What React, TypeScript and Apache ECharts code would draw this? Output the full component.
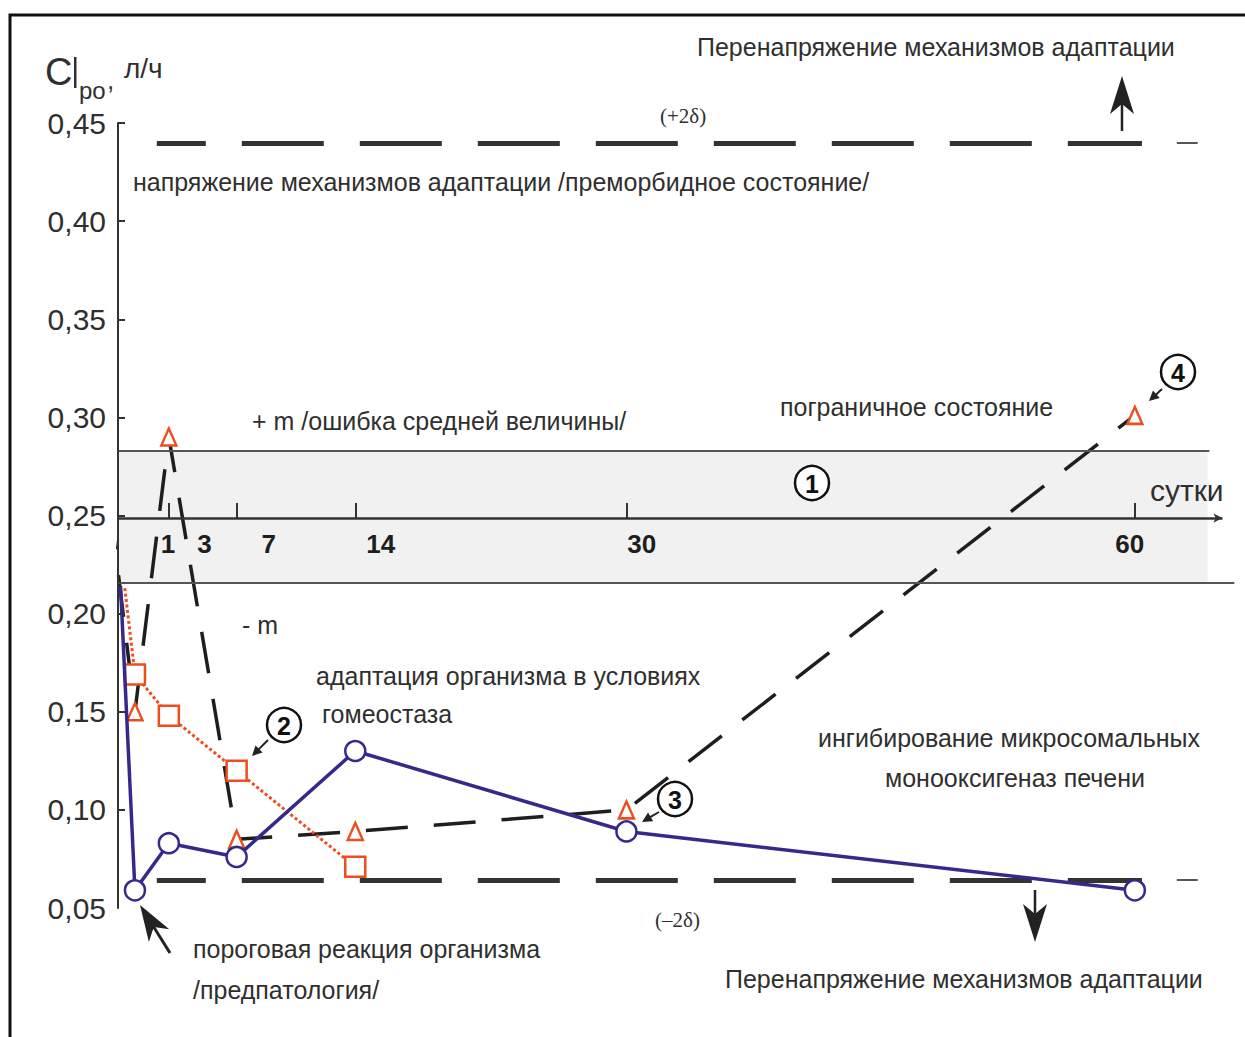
import React, { useEffect, useRef } from "react";
import * as echarts from "echarts";

// ---- data (days, Cl values) ----
const blueDays = [0.15, 1, 3, 7, 14, 30, 60];
const blueValues = [0.214, 0.059, 0.083, 0.076, 0.13, 0.089, 0.059];
const redDays = [0.4, 1, 3, 7, 14];
const redValues = [0.213, 0.169, 0.148, 0.12, 0.071];
const blackDays = [-0.45, 1, 3, 7, 14, 30, 60];
const blackValues = [0.254, 0.15, 0.29, 0.085, 0.089, 0.1, 0.301];

const yTickValues = [0.1, 0.15, 0.2, 0.25, 0.3, 0.35, 0.4, 0.45];
const xTickDays = [3, 7, 14, 30, 60];
const xLabelTexts = ["1", "3", "7", "14", "30", "60"];
const xLabelDays = [2.95, 5.1, 8.9, 15.5, 30.9, 59.7];

const upperSigma = 0.4398;
const lowerSigma = 0.0643;
const bandTop = 0.2829;
const bandBottom = 0.2156;
const axisLevel = 0.2487;

const FONT = '"Liberation Sans", Arial, sans-serif';
const TXT = "#2f2f2f";
const GZ = 100;

function toData(days: number[], vals: number[]) {
  return days.map((d, i) =>
    i === 0 ? { value: [d, vals[i]], symbol: "none" } : { value: [d, vals[i]] }
  );
}

function head(
  tip: [number, number],
  from: [number, number],
  len: number,
  half: number,
  notch: number
) {
  const dx = tip[0] - from[0];
  const dy = tip[1] - from[1];
  const l = Math.sqrt(dx * dx + dy * dy);
  const ux = dx / l;
  const uy = dy / l;
  const px = -uy;
  const py = ux;
  const bx = tip[0] - ux * len;
  const by = tip[1] - uy * len;
  return [
    tip,
    [bx + px * half, by + py * half],
    [tip[0] - ux * notch, tip[1] - uy * notch],
    [bx - px * half, by - py * half],
  ];
}

function arrow(
  from: [number, number],
  tip: [number, number],
  len: number,
  half: number,
  notch: number,
  width: number
) {
  const dx = tip[0] - from[0];
  const dy = tip[1] - from[1];
  const l = Math.sqrt(dx * dx + dy * dy);
  const end: [number, number] = [
    tip[0] - (dx / l) * (notch - 1),
    tip[1] - (dy / l) * (notch - 1),
  ];
  return [
    {
      type: "line",
      z: GZ,
      shape: { x1: from[0], y1: from[1], x2: end[0], y2: end[1] },
      style: { stroke: "#222", lineWidth: width },
    },
    {
      type: "polygon",
      z: GZ,
      shape: { points: head(tip, from, len, half, notch) },
      style: { fill: "#222" },
    },
  ];
}

function txt(x: number, y: number, text: string, size = 25, extra: any = {}) {
  return {
    type: "text",
    z: GZ + 1,
    x,
    y,
    style: {
      text,
      font: `${extra.weight || "normal"} ${size}px ${extra.family || FONT}`,
      fill: extra.fill || TXT,
      align: extra.align || "left",
      verticalAlign: "middle",
    },
  };
}

function circled(cx: number, cy: number, n: string) {
  return [
    {
      type: "circle",
      z: GZ,
      shape: { cx, cy, r: 17 },
      style: { fill: "#fff", stroke: "#111", lineWidth: 2.5 },
    },
    txt(cx, cy + 1, n, 25, { weight: "bold", align: "center", fill: "#111" }),
  ];
}

export default function App() {
  const ref = useRef<HTMLDivElement>(null);

  useEffect(() => {
    if (!ref.current) return;
    const chart = echarts.init(ref.current, undefined, { renderer: "svg" });

    const pxPerDay = 1022 / 60;
    const xMax = 66.5;

    const option: any = {
      animation: false,
      backgroundColor: "#fff",
      textStyle: { fontFamily: FONT },
      grid: { left: 118, top: 123, width: xMax * pxPerDay, height: 785 },
      xAxis: {
        type: "value",
        min: 0,
        max: xMax,
        position: "bottom",
        offset: -390,
        z: 20,
        axisLine: { show: false },
        splitLine: { show: false },
        axisTick: {
          show: true,
          inside: true,
          length: 15,
          customValues: xTickDays,
          lineStyle: { color: "#333", width: 2 },
        },
        axisLabel: {
          show: true,
          customValues: xLabelDays,
          formatter: (v: number) => {
            let best = 0;
            xLabelDays.forEach((d, i) => {
              if (Math.abs(d - v) < Math.abs(xLabelDays[best] - v)) best = i;
            });
            return xLabelTexts[best];
          },
          margin: 13,
          fontSize: 26,
          fontWeight: "bold",
          color: "#1e1e1e",
          fontFamily: FONT,
        },
      },
      yAxis: {
        type: "value",
        min: 0.05,
        max: 0.45,
        interval: 0.05,
        z: 20,
        axisLine: { show: true, lineStyle: { color: "#333", width: 2 } },
        splitLine: { show: false },
        axisTick: {
          show: true,
          inside: true,
          length: 7,
          customValues: yTickValues,
          lineStyle: { color: "#333", width: 2 },
        },
        axisLabel: {
          margin: 12,
          fontSize: 30,
          color: TXT,
          fontFamily: FONT,
          formatter: (v: number) => v.toFixed(2).replace(".", ","),
        },
      },
      series: [
        {
          type: "line",
          data: [],
          silent: true,
          z: 1,
          markArea: {
            silent: true,
            itemStyle: { color: "#f1f1f1" },
            data: [[{ coord: [0, bandBottom] }, { coord: [64.29, bandTop] }]],
          },
          markLine: {
            silent: true,
            symbol: ["none", "none"],
            label: { show: false },
            data: [
              [
                { coord: [0, bandTop], lineStyle: { color: "#555", width: 2, type: "solid" } },
                { coord: [64.4, bandTop] },
              ],
              [
                { coord: [0, bandBottom], lineStyle: { color: "#555", width: 2, type: "solid" } },
                { coord: [65.87, bandBottom] },
              ],
              [
                { coord: [0, axisLevel], lineStyle: { color: "#333", width: 2.5, type: "solid" } },
                { coord: [65.17, axisLevel], symbol: "arrow", symbolSize: [7, 9] },
              ],
              [
                {
                  coord: [2.29, upperSigma],
                  lineStyle: { color: "#333", width: 5, type: [82, 36], dashOffset: 33 },
                },
                { coord: [60.42, upperSigma] },
              ],
              [
                { coord: [62.48, upperSigma], lineStyle: { color: "#555", width: 2, type: "solid" } },
                { coord: [63.71, upperSigma] },
              ],
              [
                {
                  coord: [2.29, lowerSigma],
                  lineStyle: { color: "#333", width: 5, type: [82, 36], dashOffset: 33 },
                },
                { coord: [60.42, lowerSigma] },
              ],
              [
                { coord: [62.48, lowerSigma], lineStyle: { color: "#555", width: 2, type: "solid" } },
                { coord: [63.71, lowerSigma] },
              ],
            ],
          },
        },
        {
          name: "black",
          type: "line",
          clip: false,
          z: 3,
          data: toData(blackDays, blackValues),
          symbol: "triangle",
          symbolSize: [15, 17],
          lineStyle: { color: "#1e1e1e", width: 3.5, type: [42, 26] },
          itemStyle: { color: "#fff", borderColor: "#ee4d1f", borderWidth: 2.5 },
        },
        {
          name: "red",
          type: "line",
          z: 4,
          data: toData(redDays, redValues),
          symbol: "rect",
          symbolSize: 20,
          lineStyle: { color: "#ee4d1f", width: 3, type: [3, 2.5] },
          itemStyle: { color: "#fff", borderColor: "#ee4d1f", borderWidth: 2.5 },
        },
        {
          name: "blue",
          type: "line",
          z: 5,
          data: toData(blueDays, blueValues),
          symbol: "circle",
          symbolSize: 20,
          lineStyle: { color: "#36298c", width: 3.5 },
          itemStyle: { color: "#fff", borderColor: "#36298c", borderWidth: 2.5 },
        },
      ],
      graphic: [
        {
          type: "rect",
          z: GZ,
          shape: { x: 10, y: 15, width: 1400, height: 1200 },
          style: { fill: "none", stroke: "#111", lineWidth: 3 },
          silent: true,
        },
        // axis name
        txt(45, 72, "C", 38),
        {
          type: "rect",
          z: GZ,
          shape: { x: 74, y: 57, width: 2.5, height: 31 },
          style: { fill: TXT },
        },
        txt(79, 90, "po", 24),
        txt(107, 80, ",", 26),
        txt(124, 68, "л/ч", 28),
        // texts
        txt(697, 47, "Перенапряжение механизмов адаптации"),
        txt(660, 116, "(+2δ)", 21, { family: '"Liberation Serif", "Times New Roman", serif' }),
        txt(133, 182, "напряжение механизмов адаптации /преморбидное состояние/"),
        txt(252, 421, "+ m /ошибка средней величины/"),
        txt(780, 407, "пограничное состояние"),
        txt(1150, 490, "сутки", 30),
        txt(242, 625, "- m"),
        txt(316, 676, "адаптация организма в условиях"),
        txt(322, 714, "гомеостаза"),
        txt(818, 738, "ингибирование микросомальных"),
        txt(885, 778, "монооксигеназ печени"),
        txt(655, 920, "(–2δ)", 21, { family: '"Liberation Serif", "Times New Roman", serif' }),
        txt(193, 949, "пороговая реакция организма"),
        txt(193, 990, "/предпатология/"),
        txt(725, 979, "Перенапряжение механизмов адаптации"),
        // circled numbers
        ...circled(812, 483, "1"),
        ...circled(284, 725, "2"),
        ...circled(675, 799, "3"),
        ...circled(1178, 372, "4"),
        // arrows
        ...arrow([268, 740], [252, 756], 10, 5, 10, 2),
        ...arrow([659, 812], [642, 822], 10, 5, 10, 2),
        ...arrow([1162, 389], [1149, 401], 10, 5, 10, 2),
        ...arrow([1122, 131], [1122, 76], 38, 12, 28, 2.5),
        ...arrow([1035, 890], [1035, 942], 38, 12, 28, 2.5),
        ...arrow([170, 953], [140, 905], 36, 12, 26, 3),
      ],
    };

    chart.setOption(option);
    return () => chart.dispose();
  }, []);

  return (
    <div
      ref={ref}
      style={{ position: "fixed", left: 0, top: 0, width: 1245, height: 1037, background: "#fff" }}
    />
  );
}
